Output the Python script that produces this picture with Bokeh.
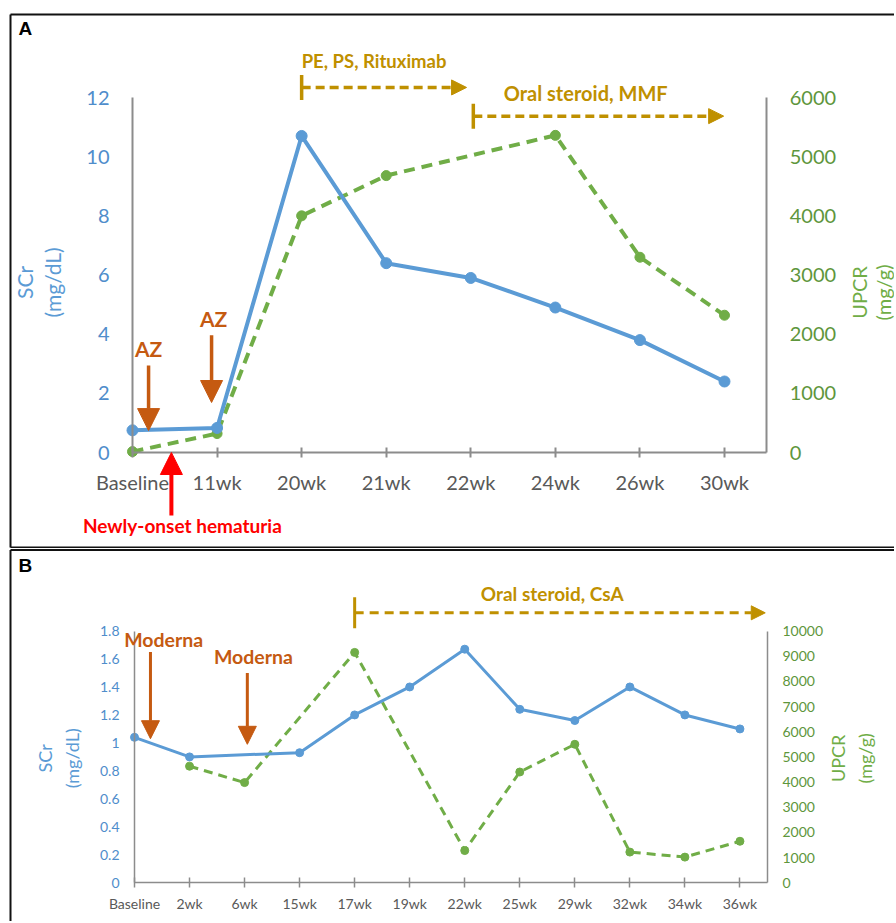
from bokeh.plotting import figure
from bokeh.models import (Range1d, LinearAxis, FixedTicker, Label, Arrow, NormalHead,
                          TeeHead, NumeralTickFormatter)
from bokeh.layouts import column
from bokeh.embed import file_html
from bokeh.resources import INLINE

# ---------------- data ----------------
a_weeks = ["Baseline", "11wk", "20wk", "21wk", "22wk", "24wk", "26wk", "30wk"]
a_scr = [0.75, 0.83, 10.7, 6.4, 5.9, 4.9, 3.8, 2.4]
a_upcr = [15, 320, 4000, 4680, None, 5360, 3300, 2320]
a_scr_ticks = [0, 2, 4, 6, 8, 10, 12]
a_upcr_ticks = [0, 1000, 2000, 3000, 4000, 5000, 6000]

b_weeks = ["Baseline", "2wk", "6wk", "15wk", "17wk", "19wk", "22wk", "25wk", "29wk",
           "32wk", "34wk", "36wk"]
b_scr = [1.04, 0.90, None, 0.93, 1.20, 1.40, 1.67, 1.24, 1.16, 1.40, 1.20, 1.10]
b_upcr = [None, 4630, 3980, None, 9150, None, 1280, 4400, 5500, 1220, 1020, 1650]
b_scr_ticks = [0, 0.2, 0.4, 0.6, 0.8, 1.0, 1.2, 1.4, 1.6, 1.8]
b_upcr_ticks = [0, 1000, 2000, 3000, 4000, 5000, 6000, 7000, 8000, 9000, 10000]

BLUE = "#5B9BD5"
BLUE_T = "#4F8DCB"
GREEN = "#70AD47"
GREEN_T = "#5E963C"
GOLD = "#BF9000"
BROWN = "#C55A11"
RED = "#FF0000"
GRAY = "#8C8C8C"
TXT = "#595959"
FONT = "Lato"
W = 894
ROT = 1.5708


def present(xs, ys):
    pts = [(x, y) for x, y in zip(xs, ys) if y is not None]
    return [p[0] for p in pts], [p[1] for p in pts]


def seg(p, x0, y0, x1, y1, w=2, color="#111111"):
    p.add_layout(Arrow(x_start=x0, y_start=y0, x_end=x1, y_end=y1, end=None,
                       line_color=color, line_width=w))


def setup(p, cats, left_ticks, left_max, right_name, right_ticks, right_max, fs,
          axis_w, left_standoff, right_standoff, x_standoff):
    p.xgrid.visible = False
    p.ygrid.visible = False
    p.outline_line_color = None
    xa = p.xaxis[0]
    xa.fixed_location = 0
    xa.bounds = (0, len(cats) - 0.5)
    xa.ticker = FixedTicker(ticks=list(range(len(cats))))
    xa.major_label_overrides = {i: c for i, c in enumerate(cats)}
    xa.axis_line_color = GRAY
    xa.axis_line_width = axis_w
    xa.major_tick_line_color = GRAY
    xa.major_tick_line_width = axis_w
    xa.major_tick_in = 5
    xa.major_tick_out = 5
    xa.minor_tick_line_color = None
    xa.major_label_text_font = FONT
    xa.major_label_text_font_size = fs
    xa.major_label_text_color = TXT
    xa.major_label_standoff = x_standoff

    ya = p.yaxis[0]
    ya.fixed_location = 0
    ya.ticker = FixedTicker(ticks=left_ticks)
    ya.bounds = (0, left_max)
    ya.axis_line_color = GRAY
    ya.axis_line_width = axis_w
    ya.major_tick_line_color = None
    ya.minor_tick_line_color = None
    ya.major_tick_in = 0
    ya.major_tick_out = 0
    ya.major_label_text_font = FONT
    ya.major_label_text_font_size = fs
    ya.major_label_text_color = BLUE_T
    ya.major_label_standoff = left_standoff
    ya.formatter = NumeralTickFormatter(format="0.[0]")

    ra = LinearAxis(y_range_name=right_name, ticker=FixedTicker(ticks=right_ticks),
                    bounds=(0, right_max), fixed_location=len(cats) - 0.5)
    ra.axis_line_color = GRAY
    ra.axis_line_width = axis_w
    ra.major_tick_line_color = None
    ra.minor_tick_line_color = None
    ra.major_tick_in = 0
    ra.major_tick_out = 0
    ra.major_label_text_font = FONT
    ra.major_label_text_font_size = fs
    ra.major_label_text_color = GREEN_T
    ra.major_label_standoff = right_standoff
    p.add_layout(ra, "right")


def lbl(p, x, y, text, color, size, bold=False, angle=0.0, align="center", font=FONT):
    p.add_layout(Label(x=x, y=y, text=text, text_color=color, text_font=font,
                       text_font_size=size, text_font_style="bold" if bold else "normal",
                       text_align=align, text_baseline="middle", angle=angle))


def arrow(p, x0, y0, x1, y1, color, lw, head, dash="solid", tee=None):
    p.add_layout(Arrow(x_start=x0, y_start=y0, x_end=x1, y_end=y1, line_color=color,
                       line_width=lw, line_dash=dash,
                       end=NormalHead(size=head, fill_color=color, line_color=color),
                       start=TeeHead(size=tee, line_color=color, line_width=lw) if tee else None))


# ---------------- panel A ----------------
# pixel geometry of the plot area: x index 0 at 132px (step 84.57px), value 0 at 452px
HA = 548
ax0, axs = 132.0, 84.57
ay0, ays = 452.0, 355.0 / 12.0
pa = figure(width=W, height=HA,
            x_range=Range1d(-ax0 / axs, (W - ax0) / axs),
            y_range=Range1d((ay0 - HA) / ays, ay0 / ays),
            output_backend="svg", toolbar_location=None, min_border=0)
pa.extra_y_ranges = {"upcr": Range1d((ay0 - HA) / ays * 500, ay0 / ays * 500)}
setup(pa, a_weeks, a_scr_ticks, 12, "upcr", a_upcr_ticks, 6000, "20px", 2, 23, 23, 12)

ax_x = list(range(len(a_weeks)))
gx, gy = present(ax_x, a_upcr)
pa.line(gx, gy, y_range_name="upcr", line_color=GREEN, line_width=4, line_dash="11 7")
pa.scatter(gx, gy, y_range_name="upcr", size=10, color=GREEN)
bx, by = present(ax_x, a_scr)
pa.line(bx, by, line_color=BLUE, line_width=4)
pa.scatter(bx, by, size=11, color=BLUE)

# treatment brackets
lbl(pa, 2.0, 13.25, "PE, PS, Rituximab", GOLD, "18.5px", True, align="left")
arrow(pa, 2.0, 12.34, 3.95, 12.34, GOLD, 3.5, 15, "9 5", tee=25)
lbl(pa, 4.39, 12.14, "Oral steroid, MMF", GOLD, "20px", True, align="left")
arrow(pa, 4.03, 11.37, 6.99, 11.37, GOLD, 3.5, 15, "9 5", tee=25)
# vaccine arrows
lbl(pa, 0.19, 3.52, "AZ", BROWN, "21px", True)
arrow(pa, 0.19, 2.94, 0.19, 0.74, BROWN, 3.5, 22)
lbl(pa, 0.96, 4.53, "AZ", BROWN, "21px", True)
arrow(pa, 0.935, 3.96, 0.935, 1.69, BROWN, 3.5, 22)
# hematuria
arrow(pa, 0.46, -2.13, 0.46, 0.0, RED, 4, 22)
lbl(pa, 0.59, -2.47, "Newly-onset hematuria", RED, "19px", True)
# axis titles
lbl(pa, -1.28, 5.75, "SCr", BLUE, "21px", angle=ROT)
lbl(pa, -0.95, 5.75, "(mg/dL)", BLUE, "21px", angle=ROT)
lbl(pa, 8.585, 5.41, "UPCR", GREEN, "20px", angle=ROT)
lbl(pa, 8.88, 5.41, "(mg/g)", GREEN, "20px", angle=ROT)
lbl(pa, -1.348, 14.333, "A", "#000000", "19px", True, align="left", font="Liberation Sans")
# panel frame
a_left, a_top, a_bot = (10 - ax0) / axs, (ay0 - 14) / ays, (ay0 - 547) / ays
a_right = (W - ax0) / axs
seg(pa, a_left, a_top, a_right, a_top)
seg(pa, a_left, a_top, a_left, a_bot)
seg(pa, a_left, a_bot, a_right, a_bot)

# ---------------- panel B ----------------
HB = 373
bx0, bxs = 134.0, 55.04
by0, bys = 334.3, 251.8 / 1.8
pb = figure(width=W, height=HB,
            x_range=Range1d(-bx0 / bxs, (W - bx0) / bxs),
            y_range=Range1d((by0 - HB) / bys, by0 / bys),
            output_backend="svg", toolbar_location=None, min_border=0)
pb.extra_y_ranges = {"upcr": Range1d((by0 - HB) / bys * 10000 / 1.8,
                                     by0 / bys * 10000 / 1.8)}
setup(pb, b_weeks, b_scr_ticks, 1.8, "upcr", b_upcr_ticks, 10000, "14px", 1.5, 15, 15, 7)

bx_x = list(range(len(b_weeks)))
gx, gy = present(bx_x, b_upcr)
pb.line(gx, gy, y_range_name="upcr", line_color=GREEN, line_width=3, line_dash="9 6")
pb.scatter(gx, gy, y_range_name="upcr", size=8, color=GREEN)
bx, by = present(bx_x, b_scr)
pb.line(bx, by, line_color=BLUE, line_width=3)
pb.scatter(bx, by, size=8, color=BLUE)

lbl(pb, 0.53, 1.74, "Moderna", BROWN, "19.5px", True)
arrow(pb, 0.29, 1.65, 0.29, 1.03, BROWN, 3, 18)
lbl(pb, 2.16, 1.62, "Moderna", BROWN, "19.5px", True)
arrow(pb, 2.05, 1.50, 2.05, 0.99, BROWN, 3, 18)
lbl(pb, 7.59, 2.07, "Oral steroid, CsA", GOLD, "19px", True)
arrow(pb, 4.0, 1.93, 11.46, 1.93, GOLD, 3, 14, "9 6", tee=31)
lbl(pb, -1.62, 0.89, "SCr", BLUE, "18px", angle=ROT)
lbl(pb, -1.13, 0.89, "(mg/dL)", BLUE, "18px", angle=ROT)
lbl(pb, 12.79, 0.89, "UPCR", GREEN, "18px", angle=ROT)
lbl(pb, 13.28, 0.89, "(mg/g)", GREEN, "18px", angle=ROT)
lbl(pb, -2.108, 2.268, "B", "#000000", "19px", True, align="left", font="Liberation Sans")
b_left, b_top = (10 - bx0) / bxs, (by0 - 1.5) / bys
b_right, b_bot = (W - bx0) / bxs, (by0 - HB) / bys
seg(pb, b_left, b_top, b_right, b_top)
seg(pb, b_left, b_top, b_left, b_bot)

layout = column(pa, pb)
open("out.html", "w").write(file_html(layout, INLINE))
